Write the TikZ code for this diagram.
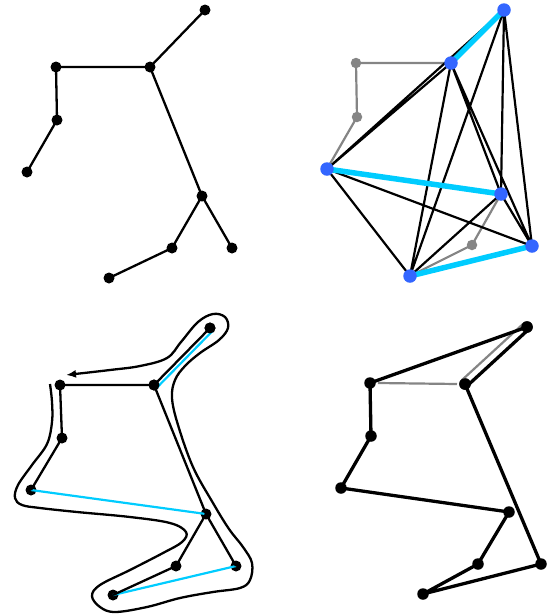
\documentclass[tikz,border=0pt]{standalone}
\usetikzlibrary{arrows.meta}
\definecolor{dotblue}{HTML}{3366FF}
\definecolor{matchcyan}{HTML}{00CCFF}
\definecolor{edgegray}{HTML}{858585}
\tikzset{
  dot/.style={circle,fill=black,inner sep=0pt,minimum size=11pt},
  bigdot/.style={circle,fill=black,inner sep=0pt,minimum size=11.5pt},
  bdot/.style={circle,fill=dotblue,inner sep=0pt,minimum size=13.5pt},
  gdot/.style={circle,fill=edgegray,inner sep=0pt,minimum size=10.5pt},
  tree/.style={line width=2.3pt,black},
  kedge/.style={line width=2.2pt,black},
  gedge/.style={line width=2.2pt,edgegray},
  medge/.style={line width=5.5pt,matchcyan},
  thinm/.style={line width=2.2pt,matchcyan},
  tour/.style={line width=3.3pt,black},
}
\begin{document}
\begin{tikzpicture}[x=1pt,y=-1pt]
\useasboundingbox (0,0) rectangle (552,614);

% ---------- top-left: spanning tree ----------
\node[dot] (a1) at (205,10) {};
\node[dot] (b1) at (150,67) {};
\node[dot] (c1) at (56,67) {};
\node[dot] (d1) at (57,120) {};
\node[dot] (e1) at (27,172) {};
\node[dot] (f1) at (202,196) {};
\node[dot] (g1) at (172,248) {};
\node[dot] (h1) at (232,248) {};
\node[dot] (i1) at (109,278) {};
\draw[tree] (a1.center)--(b1.center) (b1.center)--(c1.center) (c1.center)--(d1.center)
  (d1.center)--(e1.center) (b1.center)--(f1.center) (f1.center)--(g1.center)
  (f1.center)--(h1.center) (g1.center)--(i1.center);

% ---------- top-right: odd vertices, complete graph, matching ----------
\coordinate (a2) at (504,10);
\coordinate (b2) at (451,63);
\coordinate (c2) at (356,63);
\coordinate (d2) at (357,117);
\coordinate (e2) at (327,169);
\coordinate (f2) at (501,194);
\coordinate (g2) at (472,245);
\coordinate (h2) at (532,246);
\coordinate (i2) at (410,276);
\draw[gedge] (b2)--(c2) (c2)--(d2) (d2)--(e2) (f2)--(g2) (g2)--(i2);
\draw[kedge] (a2)--(e2) (a2)--(f2) (a2)--(h2) (a2)--(i2)
  (b2)--(e2) (b2)--(f2) (b2)--(h2) (b2)--(i2)
  (e2)--(h2) (e2)--(i2) (f2)--(h2) (f2)--(i2);
\draw[medge] (a2)--(b2) (e2)--(f2) (i2)--(h2);
\node[gdot] (nc2) at (c2) {};
\node[gdot] (nd2) at (d2) {};
\node[gdot] (ng2) at (g2) {};
\node[bdot] (na2) at (a2) {};
\node[bdot] (nb2) at (b2) {};
\node[bdot] (ne2) at (e2) {};
\node[bdot] (nf2) at (f2) {};
\node[bdot] (nh2) at (h2) {};
\node[bdot] (ni2) at (i2) {};

% ---------- bottom-left: multigraph and Euler tour ----------
\node[dot] (a3) at (210,328) {};
\node[dot] (b3) at (154,385) {};
\node[dot] (c3) at (60,385) {};
\node[dot] (d3) at (62,438) {};
\node[dot] (e3) at (31,490) {};
\node[dot] (f3) at (206,514) {};
\node[dot] (g3) at (176,566) {};
\node[dot] (h3) at (236,566) {};
\node[dot] (i3) at (113,595) {};
\draw[thinm] ([shift={(2.5,3)}]a3.center)--([shift={(3,2.5)}]b3.center);
\draw[thinm] (e3.center)--(f3.center) (h3.center)--(i3.center);
\draw[tree] (a3.center)--(b3.center) (b3.center)--(c3.center) (c3.center)--(d3.center)
  (d3.center)--(e3.center) (b3.center)--(f3.center) (f3.center)--(g3.center)
  (f3.center)--(h3.center) (g3.center)--(i3.center);
\node[dot] at (a3) {};
\node[dot] at (b3) {};
\coordinate (tourstart) at (50,384);
\coordinate (tourend) at (63,375);
\draw[line width=2.3pt,-{Latex[length=10pt,width=8pt]}] plot[smooth,tension=0.6] coordinates {
 (50,384) (52,402) (52,422) (47,444) (32,465) (18,485) (15,498) (22,505) (40,508)
 (77,512) (130,517) (170,523) (186,532) (182,542) (163,553) (130,570) (100,585)
 (92,596) (100,607) (115,612) (147,607) (180,598) (213,592) (240,588) (250,580)
 (252,563) (243,547) (229,529) (213,503) (193,467) (178,425) (172,398) (175,380)
 (185,366) (200,353) (219,340) (228,328) (225,317) (213,314) (198,322) (181,342)
 (167,358) (140,366) (110,370) (66,375)};

% ---------- bottom-right: Hamiltonian tour ----------
\node[bigdot] (a4) at (527,327) {};
\node[bigdot] (b4) at (465,384) {};
\node[bigdot] (c4) at (370,383) {};
\node[bigdot] (d4) at (371,436) {};
\node[bigdot] (e4) at (341,488) {};
\node[bigdot] (f4) at (509,512) {};
\node[bigdot] (g4) at (478,564) {};
\node[bigdot] (h4) at (541,564) {};
\node[bigdot] (i4) at (423,594) {};
\draw[gedge] ([xshift=8pt]c4.center)--([xshift=-8pt]b4.center);
\draw[gedge] ([shift={(-4,-3)}]a4.center)--([shift={(-3,-4)}]b4.center);
\draw[tour] ([shift={(2,2)}]a4.center)--([shift={(2,2)}]b4.center);
\draw[tour] (c4.center)--(a4.center) (c4.center)--(d4.center) (d4.center)--(e4.center)
  (e4.center)--(f4.center) (f4.center)--(g4.center) (g4.center)--(i4.center)
  (i4.center)--(h4.center) (h4.center)--(b4.center);
\node[bigdot] at (a4) {};
\node[bigdot] at (b4) {};
\end{tikzpicture}
\end{document}
